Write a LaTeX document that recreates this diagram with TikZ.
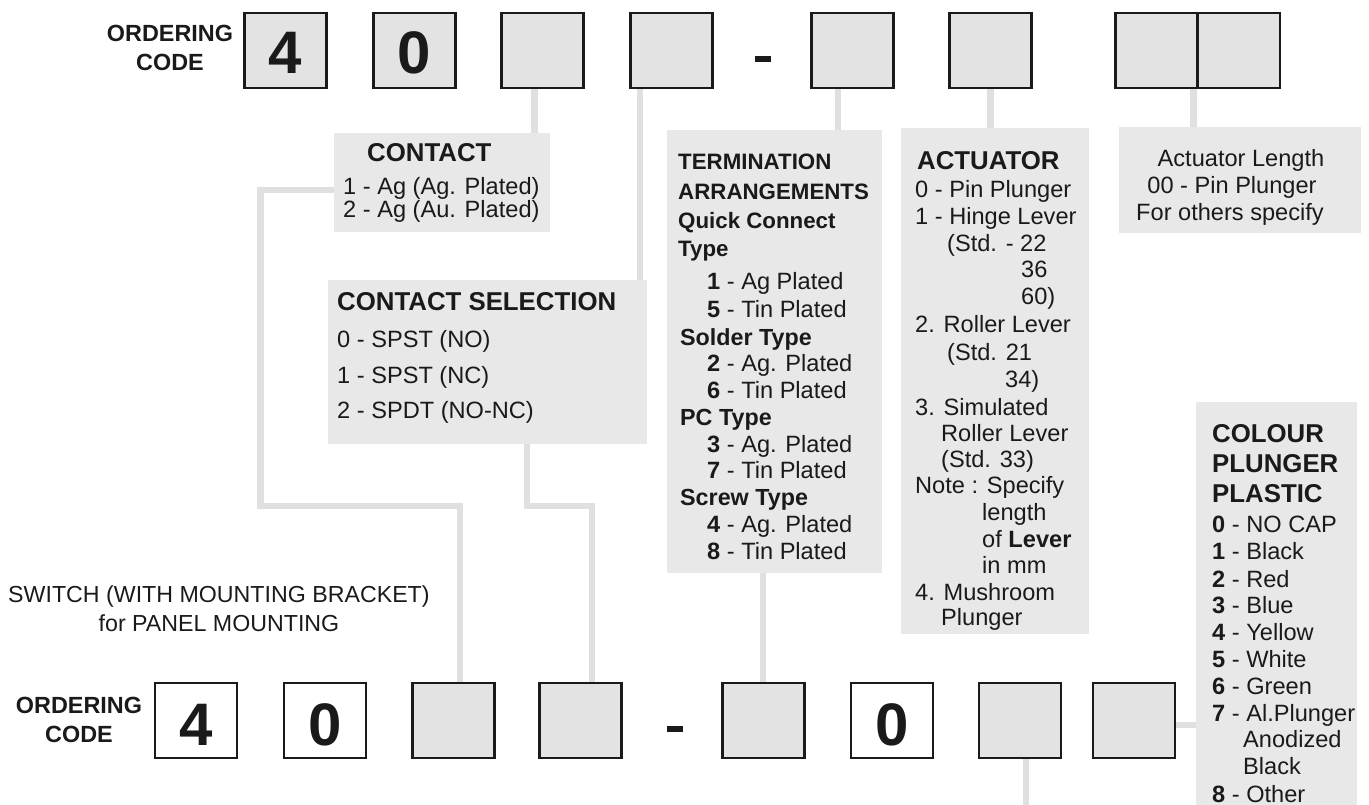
\documentclass[tikz,border=0pt]{standalone}
\usepackage{fontspec}
\setmainfont{Liberation Sans}
\definecolor{ink}{HTML}{1A1A1A}
\definecolor{boxgray}{HTML}{E3E3E3}
\definecolor{infogray}{HTML}{E8E8E8}
\definecolor{linegray}{HTML}{E0E0E0}
\pgfdeclarelayer{bg}
\pgfsetlayers{bg,main}
\begin{document}
\begin{tikzpicture}[x=1pt,y=-1pt,
  codebox/.style={draw=ink, line width=2.4pt, fill=boxgray, minimum width=82pt, minimum height=75pt, inner sep=0pt, text=ink},
  whitebox/.style={codebox, fill=white},
  digit/.style={anchor=base, inner sep=0pt, text=ink, font=\fontsize{60}{60}\selectfont\bfseries},
  info/.style={fill=infogray, draw=none, inner sep=0pt, outer sep=0pt, anchor=north west},
  conn/.style={draw=linegray, line width=6.5pt},
  lbl/.style={anchor=base west, inner sep=0pt, text=ink, font=\fontsize{23.6}{27}\selectfont},
  hd/.style={lbl, font=\fontsize{25.8}{30}\selectfont\bfseries},
  termhd/.style={lbl, font=\fontsize{22.3}{26}\selectfont\bfseries},
  subhd/.style={lbl, font=\fontsize{23.3}{27}\selectfont\bfseries},
  ordtext/.style={anchor=base, inner sep=0pt, text=ink, font=\fontsize{23.4}{28}\selectfont\bfseries},
  dashbar/.style={fill=ink, minimum width=16pt, minimum height=6.5pt, inner sep=0pt}]
\useasboundingbox (0,0) rectangle (1369,805);

% ---------- information boxes ----------
\node[info, minimum width=216pt, minimum height=99pt]  (contact) at (334,133) {};
\node[info, minimum width=319pt, minimum height=164pt] (CS)      at (328,280) {};
\node[info, minimum width=215pt, minimum height=443pt] (term)    at (667,130) {};
\node[info, minimum width=188pt, minimum height=506pt] (act)     at (901,128) {};
\node[info, minimum width=242pt, minimum height=106pt] (actlen)  at (1119,127) {};
\node[info, minimum width=161pt, minimum height=403pt] (colour)  at (1196,402) {};

% ---------- top ordering code ----------
\node[ordtext] (ordT1) at (170,42) {ORDERING};
\node[ordtext] (ordT2) at (170,71) {CODE};
\node[codebox] (T1) at (285.5,50.5) {};
\node[codebox] (T2) at (414.5,50.5) {};
\node[codebox] (T3) at (542.5,50.5) {};
\node[codebox] (T4) at (671.5,50.5) {};
\node[dashbar] (dashT) at (763,59) {};
\node[codebox] (T5) at (852.5,50.5) {};
\node[codebox] (T6) at (990.5,50.5) {};
\node[codebox] (T7) at (1156.5,50.5) {};
\node[codebox] (T8) at (1239,50.5) {};
\node[digit] (T1d) at ([yshift=-23.5pt]T1.center) {4};
\node[digit] (T2d) at ([yshift=-23.5pt]T2.center) {0};

% ---------- bottom ordering code ----------
\node[ordtext] (ordB1) at (79,713) {ORDERING};
\node[ordtext] (ordB2) at (79,742) {CODE};
\node[whitebox] (B1) at (196,720.5) {};
\node[whitebox] (B2) at (325,720.5) {};
\node[codebox]  (B3) at (453.5,720.5) {};
\node[codebox]  (B4) at (580.5,720.5) {};
\node[dashbar]  (dashB) at (674.5,729) {};
\node[codebox]  (B5) at (763.5,720.5) {};
\node[whitebox] (B6) at (892,720.5) {};
\node[codebox]  (B7) at (1020,720.5) {};
\node[codebox]  (B8) at (1134,720.5) {};
\node[digit] (B1d) at ([yshift=-24.5pt]B1.center) {4};
\node[digit] (B2d) at ([yshift=-24.5pt]B2.center) {0};
\node[digit] (B6d) at ([yshift=-24.5pt]B6.center) {0};

\node[lbl, font=\fontsize{23.2}{27}\selectfont] (sw1) at (8,602) {SWITCH (WITH MOUNTING BRACKET)};
\node[lbl, anchor=base, font=\fontsize{23.2}{27}\selectfont] (sw2) at (219,631) {for PANEL MOUNTING};

% ---------- CONTACT ----------
\node[hd] (c0) at (367,162) {CONTACT};
\node[lbl] (c1) at (343,195) {1 - Ag (Ag. Plated)};
\node[lbl] (c2) at (343,218) {2 - Ag (Au. Plated)};

% ---------- CONTACT SELECTION ----------
\node[hd, font=\fontsize{25.8}{30}\selectfont\bfseries] (s0) at (337,310) {CONTACT SELECTION};
\node[lbl] (s1) at (337,348) {0 - SPST (NO)};
\node[lbl] (s2) at (337,383) {1 - SPST (NC)};
\node[lbl] (s3) at (337,418) {2 - SPDT (NO-NC)};

% ---------- TERMINATION ----------
\node[termhd] (te1) at (678,170) {TERMINATION};
\node[termhd] (te2) at (678,200) {ARRANGEMENTS};
\node[termhd] (te3) at (678,229) {Quick Connect};
\node[termhd] (te4) at (678,257) {Type};
\node[subhd] (te5) at (680,345) {Solder Type};
\node[subhd] (te6) at (680,425) {PC Type};
\node[subhd] (te7) at (680,505) {Screw Type};
\foreach \yy/\lt [count=\i] in {290/{\textbf{1} - Ag Plated}, 318/{\textbf{5} - Tin Plated},
   371/{\textbf{2} - Ag. Plated}, 398/{\textbf{6} - Tin Plated},
   452/{\textbf{3} - Ag. Plated}, 478/{\textbf{7} - Tin Plated},
   532/{\textbf{4} - Ag. Plated}, 559/{\textbf{8} - Tin Plated}}
  \node[lbl] (ti\i) at (707,\yy) {\lt};

% ---------- ACTUATOR ----------
\node[hd] (a0) at (917,170) {ACTUATOR};
\foreach \yy/\xx/\lt [count=\i] in {198/915/{0 - Pin Plunger}, 225/915/{1 - Hinge Lever},
   252/947/{(Std. - 22}, 278/1021/{36}, 305/1021/{60)},
   333/915/{2. Roller Lever}, 360/947/{(Std. 21}, 387/1005/{34)},
   415/915/{3. Simulated}, 441/941/{Roller Lever}, 467/941/{(Std. 33)},
   493/915/{Note : Specify}, 520/982/{length}, 547/982/{of \textbf{Lever}},
   573/982/{in mm}, 600/915/{4. Mushroom}, 625/941/{Plunger}}
  \node[lbl] (ai\i) at (\xx,\yy) {\lt};

% ---------- ACTUATOR LENGTH ----------
\node[lbl, anchor=base] (l1) at (1241,167) {Actuator Length};
\node[lbl, anchor=base] (l2) at (1232,194) {00 - Pin Plunger};
\node[lbl, anchor=base] (l3) at (1230,221) {For others specify};

% ---------- COLOUR ----------
\node[hd] (k1) at (1212,442) {COLOUR};
\node[hd] (k2) at (1212,472) {PLUNGER};
\node[hd] (k3) at (1212,502) {PLASTIC};
\foreach \yy/\xx/\lt [count=\i] in {532/1212/{\textbf{0} - NO CAP}, 559/1212/{\textbf{1} - Black},
   587/1212/{\textbf{2} - Red}, 613/1212/{\textbf{3} - Blue}, 640/1212/{\textbf{4} - Yellow},
   667/1212/{\textbf{5} - White}, 694/1212/{\textbf{6} - Green}, 721/1212/{\textbf{7} - Al.Plunger},
   747/1243/{Anodized}, 774/1243/{Black}, 802/1212/{\textbf{8} - Other}}
  \node[lbl] (ki\i) at (\xx,\yy) {\lt};

% ---------- connectors ----------
\coordinate (j1) at (260.5,506);
\coordinate (endB7) at (1026,805);
\begin{pgfonlayer}{bg}
\draw[conn] ([xshift=-8pt]T3.south) -- ([xshift=-8pt]T3.south |- contact.north);
\draw[conn] ([xshift=-31.5pt]T4.south) -- ([xshift=-31.5pt]T4.south |- CS.north);
\draw[conn] ([xshift=-14.5pt]T5.south) -- ([xshift=-14.5pt]T5.south |- term.north);
\draw[conn] (T6.south) -- (T6.south |- act.north);
\draw[conn] ([xshift=-3.5pt]T8.south west) -- ([xshift=-3.5pt]T8.south west |- actlen.north);
\draw[conn] ([yshift=-7.5pt]contact.west) -| (j1) -| ([xshift=6.5pt]B3.north);
\draw[conn] ([xshift=39.5pt]CS.south) -- ++(0,62) -| ([xshift=11.5pt]B4.north);
\draw[conn] ([xshift=-11.5pt]term.south) -- ([xshift=-11.5pt]term.south |- B5.north);
\draw[conn] ([xshift=6pt]B7.south) -- (endB7);
\draw[conn] ([yshift=-4.5pt]B8.east) -- ([yshift=-4.5pt]B8.east -| colour.west);
\end{pgfonlayer}
\end{tikzpicture}
\end{document}
